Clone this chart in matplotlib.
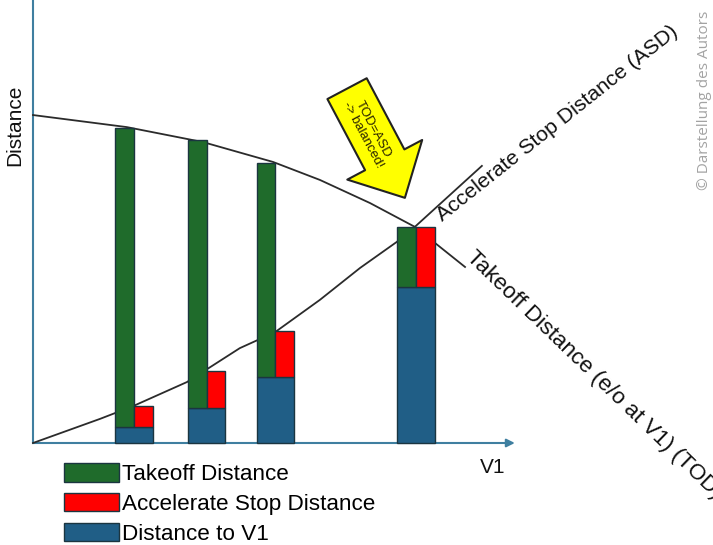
import numpy as np
from matplotlib import pyplot as plt

# bars: four V1 choices, the last one is the balanced field length
v1 = np.array([26.4, 45.3, 63.3, 100.0])
dist_to_v1 = np.array([4.9, 10.7, 20.2, 47.9])
takeoff_dist = np.array([96.6, 92.9, 85.9, 66.3])
accel_stop_dist = np.array([11.3, 22.1, 34.4, 66.3])

# curves
tod_v1 = [0, 24.5, 44.4, 62.7, 74.9, 88.0, 99.7, 112.8]
tod_dist = [100.6, 96.9, 92.3, 86.2, 80.7, 73.6, 66.3, 54.0]
asd_v1 = [0, 17.5, 26.1, 40.2, 54.0, 63.2, 74.9, 85.4, 95.0, 99.7, 117.2]
asd_dist = [0, 7.4, 11.3, 18.7, 29.1, 34.0, 43.9, 53.7, 61.7, 66.3, 85.0]

green = '#1f6b2b'
red = '#ff0000'
blue = '#205e86'
edge = '#1b3540'
axis_col = '#3f7fa0'
line_col = '#2b2b2b'

fig = plt.figure(figsize=(7.13, 5.45), dpi=100)
ax = fig.add_axes([0, 0, 1, 1])
ax.set_xlim(-8.62, 177.55)
ax.set_ylim(-31.29, 135.89)
ax.axis('off')

# axes with arrow on V1
ax.plot([0, 0], [0, 135.89], color=axis_col, lw=1.5, zorder=1)
ax.annotate('', xy=(125.8, 0), xytext=(0, 0),
            arrowprops=dict(arrowstyle='-|>', color=axis_col, lw=1.5,
                            shrinkA=0, shrinkB=0, mutation_scale=12), zorder=1)

# curves behind the bars
ax.plot(tod_v1, tod_dist, color=line_col, lw=1.3, zorder=2)
ax.plot(asd_v1, asd_dist, color=line_col, lw=1.3, zorder=2)

w = 9.8
b_blue = ax.bar(v1, dist_to_v1, w, color=blue, edgecolor=edge, lw=1,
                label='Distance to V1', zorder=3)
b_green = ax.bar(v1 - w / 4, takeoff_dist - dist_to_v1, w / 2, bottom=dist_to_v1,
                 color=green, edgecolor=edge, lw=1, label='Takeoff Distance', zorder=3)
b_red = ax.bar(v1 + w / 4, accel_stop_dist - dist_to_v1, w / 2, bottom=dist_to_v1,
               color=red, edgecolor=edge, lw=1, label='Accelerate Stop Distance', zorder=3)

# curve labels (the TOD one runs off the right edge, as in the original)
ax.text(106.8, 67.8, 'Accelerate Stop Distance (ASD)', rotation=38.5,
        rotation_mode='anchor', ha='left', va='baseline', fontsize=15.3,
        family='Liberation Sans', color='#111111')
ax.text(112.8, 56.7, 'Takeoff Distance (e/o at V1) (TOD)', rotation=-44,
        rotation_mode='anchor', ha='left', va='baseline', fontsize=16.2,
        family='Liberation Sans', color='#111111')

# yellow arrow pointing at the balanced point
ax.annotate('', xy=(97.1, 75.2), xytext=(82.0, 108.7),
            arrowprops=dict(arrowstyle='simple,head_length=3.1,head_width=6.1,tail_width=3.2',
                            fc='#ffff00', ec='#222222', lw=1.5, shrinkA=0, shrinkB=0,
                            mutation_scale=10), zorder=5)
ax.text(87.5, 95.4, 'TOD=ASD\n-> balanced!', rotation=-62, rotation_mode='anchor',
        ha='center', va='center', fontsize=9.5, family='Liberation Sans',
        color='#2a2400', linespacing=1.0, zorder=6)

ax.text(493 / 3.83 - 8.62, (443 - 468) / 3.26, 'V1', ha='center', va='center',
        fontsize=15, family='Liberation Sans', color='#111111')
fig.text(24 / 713, 1 - 125 / 545, 'Distance', rotation=90, ha='right', va='center',
         fontsize=15, family='Liberation Sans', color='#111111')

fig.text(705 / 713, 1 - 100 / 545, '\u00a9 Darstellung des Autors', rotation=90,
         ha='center', va='center', fontsize=11, family='Open Sans', color='#a3a3a3')

leg = fig.legend(handles=[b_green, b_red, b_blue],
                 labels=['Takeoff Distance', 'Accelerate Stop Distance', 'Distance to V1'],
                 loc='upper left', bbox_to_anchor=(64 / 713, 1 - 463 / 545),
                 frameon=False, borderpad=0, borderaxespad=0, handlelength=2.45,
                 handleheight=0.9, handletextpad=0.15, labelspacing=0.34,
                 prop={'family': 'Liberation Sans', 'size': 16.2})

fig.savefig('out.png', dpi=100)
